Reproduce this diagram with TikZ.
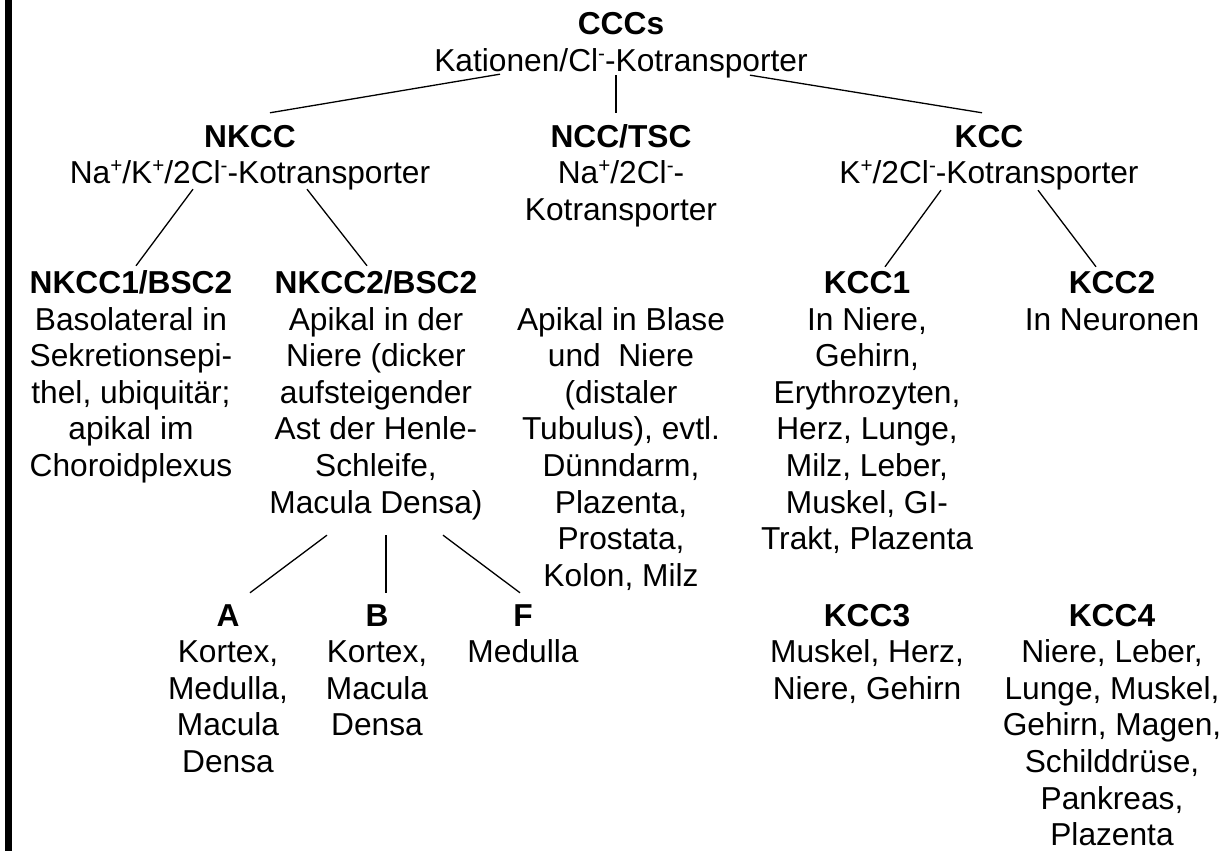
\documentclass[tikz,border=0pt]{standalone}
\usepackage{fontspec}
\setmainfont{Liberation Sans}
\usetikzlibrary{calc}
\newcommand\supx[1]{\raisebox{0.34em}{\fontsize{20.6}{20}\selectfont #1}}
\newcommand\blk[1]{\begin{tabular}[t]{@{}c@{}}#1\end{tabular}}
\tikzset{
  txt/.style={anchor=base, inner sep=0pt, font=\fontsize{31.7}{36.6}\selectfont},
  conn/.style={draw=black, line width=1.3pt}
}
\begin{document}
\begin{tikzpicture}[x=1pt,y=-1pt]
\useasboundingbox (0,0) rectangle (1221,851);
\fill[white] (0,0) rectangle (1221,851);
\fill[black] (5,0) rectangle (11.5,851);

\node[txt] (ccc) at (621,35) {\blk{\textbf{CCCs}\\Kationen/Cl\supx{-}-Kotransporter}};

\node[txt] (nkcc) at (250,147) {\blk{\textbf{NKCC}\\Na\supx{+}/K\supx{+}/2Cl\supx{-}-Kotransporter}};
\node[txt] (ncc) at (621,147) {\blk{\textbf{NCC/TSC}\\Na\supx{+}/2Cl\supx{-}-\\Kotransporter}};
\node[txt] (kcc) at (989,147) {\blk{\textbf{KCC}\\K\supx{+}/2Cl\supx{-}-Kotransporter}};

\node[txt] (nkcc1) at (131,293.4) {\blk{\textbf{NKCC1/BSC2}\\Basolateral in\\Sekretionsepi-\\thel, ubiquitär;\\apikal im\\Choroidplexus}};
\node[txt] (nkcc2) at (376,293.4) {\blk{\textbf{NKCC2/BSC2}\\Apikal in der\\Niere (dicker\\aufsteigender\\Ast der Henle-\\Schleife,\\Macula Densa)}};
\node[txt] (nccloc) at (621,330) {\blk{Apikal in Blase\\und\ \ Niere\\(distaler\\Tubulus), evtl.\\Dünndarm,\\Plazenta,\\Prostata,\\Kolon, Milz}};
\node[txt] (kcc1) at (867,293.4) {\blk{\textbf{KCC1}\\In Niere,\\Gehirn,\\Erythrozyten,\\Herz, Lunge,\\Milz, Leber,\\Muskel, GI-\\Trakt, Plazenta}};
\node[txt] (kcc2) at (1112,293.4) {\blk{\textbf{KCC2}\\In Neuronen}};

\node[txt] (a) at (228,626) {\blk{\textbf{A}\\Kortex,\\Medulla,\\Macula\\Densa}};
\node[txt] (b) at (377,626) {\blk{\textbf{B}\\Kortex,\\Macula\\Densa}};
\node[txt] (f) at (523,626) {\blk{\textbf{F}\\Medulla}};
\node[txt] (kcc3) at (867,626) {\blk{\textbf{KCC3}\\Muskel, Herz,\\Niere, Gehirn}};
\node[txt] (kcc4) at (1112,626) {\blk{\textbf{KCC4}\\Niere, Leber,\\Lunge, Muskel,\\Gehirn, Magen,\\Schilddrüse,\\Pankreas,\\Plazenta}};

\draw[conn] ($(ccc.south)+(-121,-8.6)$) -- ($(nkcc.north)+(20,-8.4)$);
\draw[conn] ($(ccc.south)+(-5,-7.6)$) -- ($(ncc.north)+(-5,-8.4)$);
\draw[conn] ($(ccc.south)+(129,-7.6)$) -- ($(kcc.north)+(-7,-8.4)$);
\draw[conn] ($(nkcc.south)+(-57,-5.6)$) -- ($(nkcc1.north)+(5,-1.8)$);
\draw[conn] ($(nkcc.south)+(57,-5.6)$) -- ($(nkcc2.north)+(-9,-1.8)$);
\draw[conn] ($(kcc.south)+(-48,-4.6)$) -- ($(kcc1.north)+(18,-0.8)$);
\draw[conn] ($(kcc.south)+(49,-4.6)$) -- ($(kcc2.north)+(-16,-0.8)$);
\draw[conn] ($(nkcc2.south)+(-49,11)$) -- ($(a.north)+(22,-7.4)$);
\draw[conn] ($(nkcc2.south)+(10,11)$) -- ($(b.north)+(9,-7.4)$);
\draw[conn] ($(nkcc2.south)+(67,11)$) -- ($(f.north)+(-3,-7.4)$);
\end{tikzpicture}
\end{document}
